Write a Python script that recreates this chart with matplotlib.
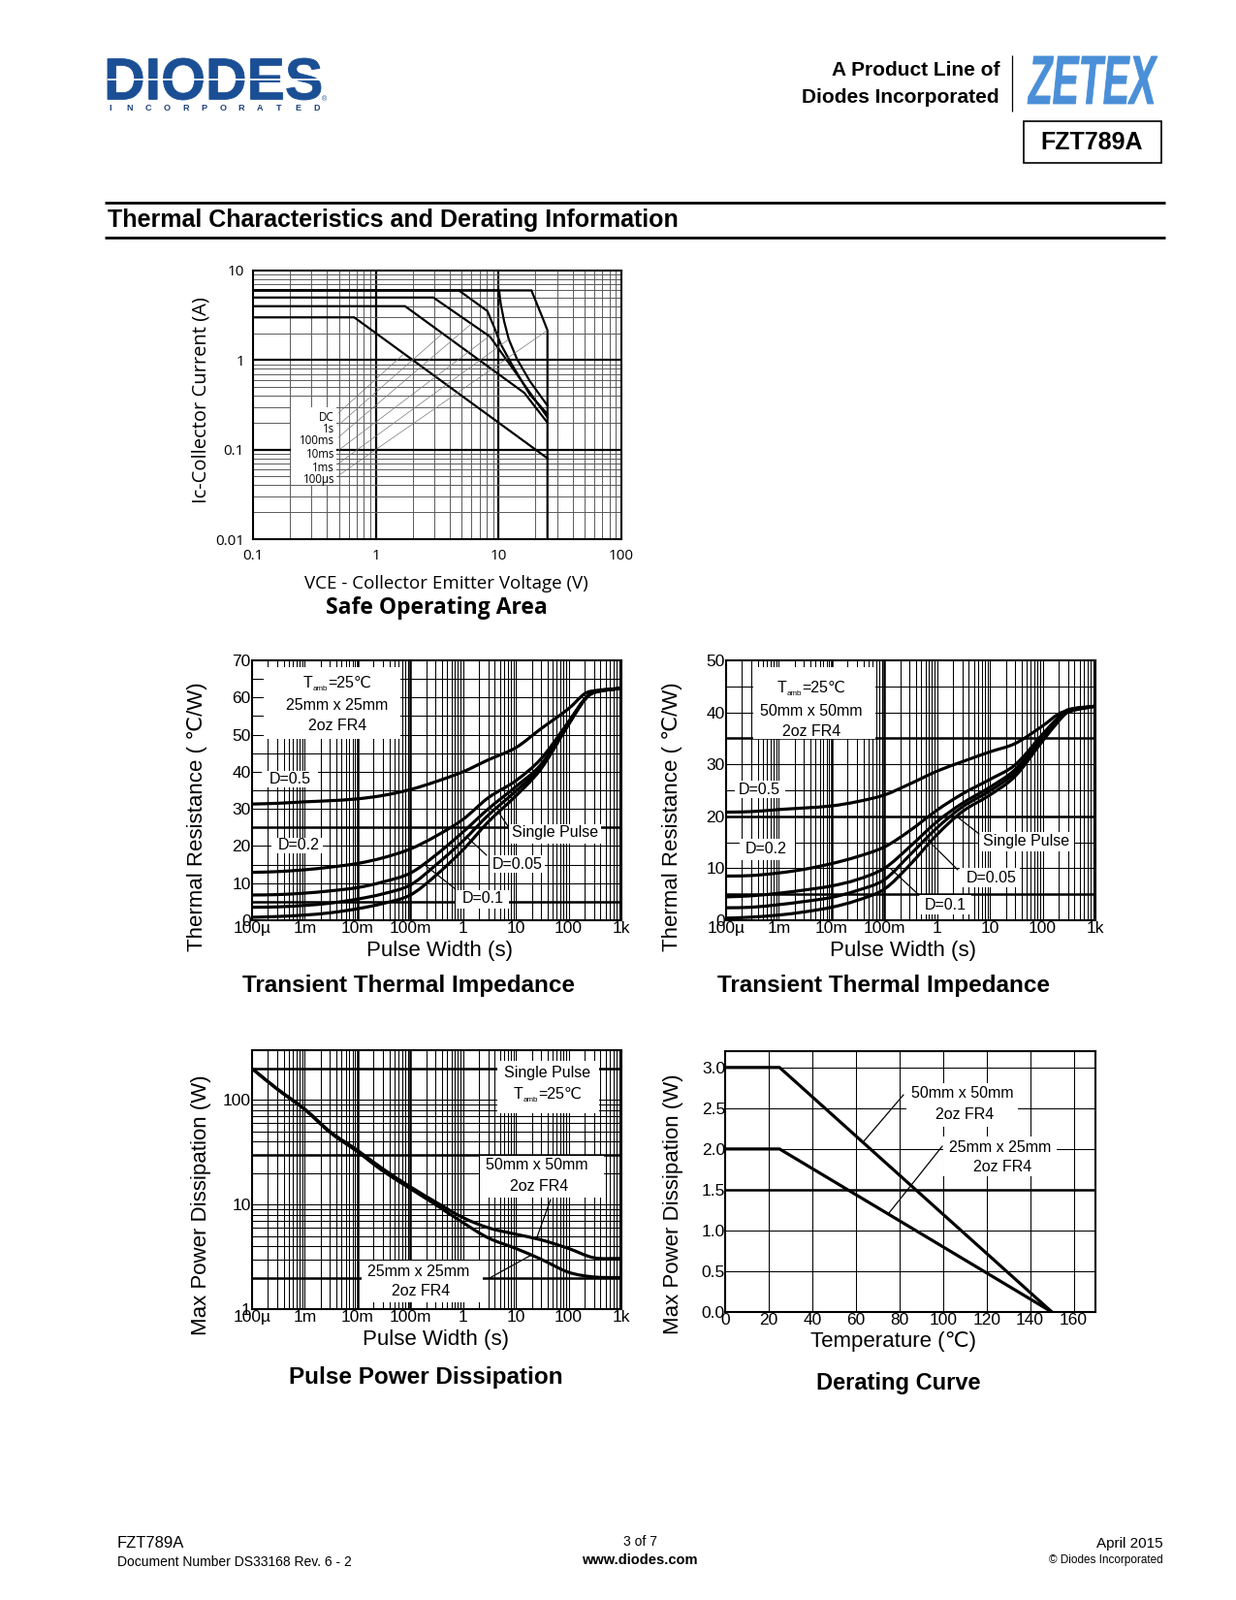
import matplotlib
matplotlib.use('Agg')
import numpy as np
import matplotlib.pyplot as plt
from matplotlib.font_manager import FontProperties
from matplotlib.lines import Line2D
from matplotlib.patches import PathPatch, Rectangle
from matplotlib.path import Path
from matplotlib.textpath import TextPath
from matplotlib.ticker import NullLocator
from matplotlib.transforms import Affine2D, IdentityTransform

plt.rcParams['font.family'] = ['Liberation Sans', 'DejaVu Sans']
SOA_FONT = ['Open Sans', 'DejaVu Sans']

# ---------------- data ----------------
# Safe operating area: VCE (V) / Ic (A)
soa_dc_v = [0.1, 0.667, 25]
soa_dc_i = [3.0, 3.0, 0.08]
soa_1s_v = [0.1, 1.73, 16.2, 25]
soa_1s_i = [4.0, 4.0, 0.43, 0.2]
soa_100ms_v = [0.1, 2.94, 8.5, 25]
soa_100ms_i = [5.0, 5.0, 1.83, 0.23]
soa_10ms_v = [0.1, 4.74, 8.1, 9.25, 10.4, 12.9, 18.0, 25]
soa_10ms_i = [6.0, 6.0, 3.53, 2.29, 1.51, 0.88, 0.41, 0.25]
soa_1ms_v = [0.1, 10.1, 10.4, 11.1, 12.1, 14.1, 18.0, 25]
soa_1ms_i = [6.0, 6.0, 4.27, 2.70, 1.71, 1.03, 0.58, 0.31]
soa_100us_v = [0.1, 18.5, 22.6, 25, 25]
soa_100us_i = [6.0, 6.0, 3.06, 2.15, 0.01]
soa_labels = ['DC', '1s', '100ms', '10ms', '1ms', '100µs']
soa_lead_v = [1.7, 3.5, 6.0, 9.5, 12.1, 25]
soa_lead_i = [1.18, 1.98, 2.54, 2.1, 1.71, 2.15]
soa_xticks = [0.1, 1, 10, 100]
soa_xlabels = ['0.1', '1', '10', '100']
soa_yticks = [0.01, 0.1, 1, 10]
soa_ylabels = ['0.01', '0.1', '1', '10']

# Transient thermal impedance (s / degC per W)
tti_t = [1e-4, 3e-4, 1e-3, 3e-3, 1e-2, 3e-2, 0.1, 0.3, 1, 3, 10, 30, 100, 200, 300, 1000]
z25_d05 = [31.3, 31.5, 31.9, 32.2, 32.7, 33.6, 35.2, 37.3, 40.0, 43.2, 46.5, 51.6, 57.0, 61.0, 61.8, 62.5]
z25_d02 = [12.9, 13.1, 13.6, 14.3, 15.3, 16.8, 19.2, 22.6, 27.2, 33.0, 37.6, 43.5, 53.5, 59.5, 61.5, 62.5]
z25_d01 = [6.8, 6.9, 7.3, 7.9, 8.8, 10.3, 12.7, 17.5, 23.8, 30.0, 36.0, 42.0, 53.3, 59.5, 61.4, 62.5]
z25_d005 = [3.5, 3.6, 4.0, 4.6, 5.7, 7.1, 9.5, 14.8, 21.4, 28.3, 34.8, 41.3, 53.0, 59.4, 61.3, 62.5]
z25_sp = [0.8, 1.0, 1.4, 2.0, 3.1, 4.5, 6.8, 12.0, 19.0, 26.5, 33.5, 40.8, 52.7, 59.3, 61.3, 62.5]
z50_d05 = [20.8, 20.9, 21.3, 21.6, 22.0, 22.8, 24.1, 26.2, 28.7, 30.5, 32.4, 34.0, 37.4, 39.7, 40.3, 41.2]
z50_d02 = [8.5, 8.6, 9.1, 9.8, 10.9, 12.2, 14.1, 17.2, 21.2, 24.3, 27.1, 29.9, 35.8, 39.1, 40.5, 41.2]
z50_d01 = [4.5, 4.7, 5.2, 5.8, 6.6, 7.8, 10.0, 14.1, 19.0, 22.5, 25.6, 29.0, 35.2, 38.6, 40.3, 41.2]
z50_d005 = [2.4, 2.5, 3.0, 3.6, 4.4, 5.7, 7.8, 12.5, 17.8, 21.8, 24.9, 28.4, 34.9, 38.4, 40.2, 41.2]
z50_sp = [0.4, 0.6, 1.0, 1.6, 2.5, 3.8, 6.0, 10.6, 16.5, 20.9, 24.1, 27.7, 34.5, 38.3, 40.0, 41.2]
tti_xticks = [1e-4, 1e-3, 1e-2, 1e-1, 1, 10, 100, 1000]
tti_xlabels = ['100µ', '1m', '10m', '100m', '1', '10', '100', '1k']

# Pulse power dissipation (s / W)
ppd_t = [1e-4, 3e-4, 1e-3, 3e-3, 1e-2, 3e-2, 0.1, 0.3, 1, 3, 10, 30, 100, 300, 1000]
ppd_50 = [200, 128, 82, 50, 33, 22, 14.8, 10.6, 7.5, 6.0, 5.2, 4.6, 3.8, 3.1, 3.05]
ppd_25 = [200, 127, 81, 49, 32, 21, 14.2, 10.0, 6.7, 4.8, 3.8, 3.0, 2.25, 2.03, 2.0]

# Derating (degC / W)
der_temp = [0, 25, 150]
der_50 = [3.0, 3.0, 0.0]
der_25 = [2.0, 2.0, 0.0]
der_xticks = [0, 20, 40, 60, 80, 100, 120, 140, 160]
der_yticks = [0.0, 0.5, 1.0, 1.5, 2.0, 2.5, 3.0]

# ---------------- page helpers (pixel coords from top-left) ----------------
W, H = 1275, 1650
fig = plt.figure(figsize=(W / 100, H / 100), dpi=100)


def fbox(l, t, r, b):
    return [l / W, 1 - b / H, (r - l) / W, (b - t) / H]


def ftext(x, y, s, **kw):
    kw.setdefault('ha', 'center')
    kw.setdefault('va', 'center')
    return fig.text(x / W, 1 - y / H, s, **kw)


def fline(x0, y0, x1, y1, lw=1.0, color='k'):
    fig.add_artist(Line2D([x0 / W, x1 / W], [1 - y0 / H, 1 - y1 / H],
                          transform=fig.transFigure, color=color, lw=lw,
                          solid_capstyle='butt'))


def white_box(ax, l, t, r, b):
    ax.add_patch(Rectangle((l, H - b), r - l, b - t, transform=IdentityTransform(),
                           facecolor='white', edgecolor='none', zorder=2))


def pointer(ax, x0, y0, xy, lw=0.9, color='k'):
    ax.annotate('', xy=xy, xycoords='data', xytext=(x0, H - y0),
                textcoords='figure pixels',
                arrowprops=dict(arrowstyle='-', color=color, lw=lw,
                                shrinkA=0, shrinkB=0), zorder=4)


def smooth_curve(ax, xs, ys, logy=False, lw=2.3):
    # cubic Hermite path through the read points (drawn in log-x space)
    u = np.log10(np.asarray(xs, float))
    v = np.log10(np.asarray(ys, float)) if logy else np.asarray(ys, float)
    n = len(u)
    sec = np.diff(v) / np.diff(u)
    m = np.empty(n)
    m[0], m[-1] = sec[0], sec[-1]
    for k in range(1, n - 1):
        m[k] = 0.0 if sec[k - 1] * sec[k] <= 0 else \
            (v[k + 1] - v[k - 1]) / (u[k + 1] - u[k - 1])
    verts = [(u[0], v[0])]
    codes = [Path.MOVETO]
    for k in range(n - 1):
        h = u[k + 1] - u[k]
        verts += [(u[k] + h / 3, v[k] + m[k] * h / 3),
                  (u[k + 1] - h / 3, v[k + 1] - m[k + 1] * h / 3),
                  (u[k + 1], v[k + 1])]
        codes += [Path.CURVE4] * 3
    verts = np.array(verts)
    verts[:, 0] = 10 ** verts[:, 0]
    if logy:
        verts[:, 1] = 10 ** verts[:, 1]
    ax.add_patch(PathPatch(Path(verts, codes), fill=False, lw=lw,
                           edgecolor='k', zorder=3, capstyle='butt'))


def logo_text(s, l, t, r, b, color, skew=0):
    tp = TextPath((0, 0), s, size=100,
                  prop=FontProperties(family='Liberation Sans', weight='bold'))
    tp = tp.transformed(Affine2D().skew_deg(skew, 0))
    e = tp.get_extents()
    tr = (Affine2D().translate(-e.x0, -e.y0)
          .scale((r - l) / e.width, (b - t) / e.height).translate(l, H - b))
    fig.add_artist(PathPatch(tr.transform_path(tp), facecolor=color,
                             edgecolor=color, lw=0.6, transform=IdentityTransform()))


def tamb(cx, cy, size=11.5):
    # T with small "amb" subscript followed by =25 degC
    rend = fig.canvas.get_renderer()
    base = cy + 0.36 * size * 100 / 72
    pieces = [('T', size, 0), ('amb', size * 0.5, 3.5), ('=25℃', size, 0)]
    objs = [ftext(0, base + dy, s, fontsize=fs, ha='left', va='baseline')
            for s, fs, dy in pieces]
    widths = [o.get_window_extent(rend).width for o in objs]
    x = cx - sum(widths) / 2
    for o, w in zip(objs, widths):
        o.set_x(x / W)
        x += w


def log_lines(lo, hi):
    return [m * 10.0 ** d for d in range(lo, hi) for m in range(1, 10)][1:]


def setup_axes(ax, lw=1.5):
    for sp in ax.spines.values():
        sp.set_linewidth(lw)
        sp.set_zorder(5)
    ax.xaxis.set_minor_locator(NullLocator())
    ax.yaxis.set_minor_locator(NullLocator())


# ---------------- header ----------------
logo_text('DIODES', 111, 60, 331, 103, '#1b4f95')
fline(111, 82, 331, 82, lw=1.3, color='white')
for k, ch in enumerate('INCORPORATED'):
    ftext(114 + k * 19.3, 111, ch, fontsize=6.5, weight='bold', color='#1b3f7a')
ftext(334, 103, '®', fontsize=5, color='#1b4f95')
ftext(1031, 73, 'A Product Line of', fontsize=15, weight='bold', ha='right')
ftext(1031, 100, 'Diodes Incorporated', fontsize=15, weight='bold', ha='right')
fline(1043.5, 57, 1043.5, 115, lw=0.9)
logo_text('ZETEX', 1060, 58, 1194, 107, '#4a8fd8', skew=10)
fig.add_artist(Rectangle((1055.5, H - 168.3), 142.3, 43.3, transform=IdentityTransform(),
                         fill=False, edgecolor='k', lw=1.2))
ftext(1126.5, 147, 'FZT789A', fontsize=18, weight='bold')
fline(108, 208.5, 1202, 208.5, lw=2.0)
ftext(111, 227, 'Thermal Characteristics and Derating Information',
      fontsize=18, weight='bold', ha='left')
fline(108, 244.5, 1202, 244.5, lw=2.0)

# ---------------- Safe Operating Area ----------------
ax = fig.add_axes(fbox(261, 279, 641, 556))
ax.set_xscale('log')
ax.set_yscale('log')
ax.set_xlim(0.1, 100)
ax.set_ylim(0.01, 10)
setup_axes(ax)
for v in log_lines(-1, 2):
    major = v in (1, 10)
    ax.axvline(v, color='k' if major else '#5a5a5a', lw=1.6 if major else 0.7, zorder=1)
for v in log_lines(-2, 1):
    major = v in (0.1, 1)
    ax.axhline(v, color='k' if major else '#5a5a5a', lw=1.6 if major else 0.7, zorder=1)
for vv, ii in [(soa_dc_v, soa_dc_i), (soa_1s_v, soa_1s_i), (soa_100ms_v, soa_100ms_i),
               (soa_10ms_v, soa_10ms_i), (soa_1ms_v, soa_1ms_i), (soa_100us_v, soa_100us_i)]:
    ax.plot(vv, ii, color='k', lw=1.6, zorder=3, solid_joinstyle='miter')
white_box(ax, 300, 420, 347, 500)
label_y = [430, 442.5, 455, 468.5, 482, 494.5]
for lab, y, v, i in zip(soa_labels, label_y, soa_lead_v, soa_lead_i):
    ftext(345, y, lab, fontsize=8.3, ha='right', family=SOA_FONT)
    pointer(ax, 349, y - 4, (v, i), lw=0.5, color='#777777')
ax.set_xticks(soa_xticks)
ax.set_xticklabels(soa_xlabels, family=SOA_FONT)
ax.set_yticks(soa_yticks)
ax.set_yticklabels(soa_ylabels, family=SOA_FONT)
ax.tick_params(length=0, labelsize=11, pad=7)
ax.tick_params(axis='y', pad=6.5)
ftext(207, 413, 'Ic-Collector Current (A)', rotation=90, fontsize=14.5, family=SOA_FONT)
ftext(460, 602, 'VCE - Collector Emitter Voltage (V)', fontsize=13.5, family=SOA_FONT)
ftext(450, 627, 'Safe Operating Area', fontsize=16.5, weight='bold', family=SOA_FONT)


# ---------------- grids for the Zetex style charts ----------------
def tti_vgrid(ax):
    for v in log_lines(-4, 3):
        thick = v in (1e-2, 1e-1)
        ax.axvline(v, color='k', lw=1.8 if thick else 0.75, zorder=1)


def tti_axes(box, ymax, thick_y, curves, title_x, ylab_x, xlab_x):
    ax = fig.add_axes(fbox(*box))
    ax.set_xscale('log')
    ax.set_xlim(1e-4, 1e3)
    ax.set_ylim(0, ymax)
    setup_axes(ax)
    tti_vgrid(ax)
    for v in range(5, ymax, 5):
        ax.axhline(v, color='k', lw=1.8 if v in thick_y else 0.75, zorder=1)
    for z in curves:
        smooth_curve(ax, tti_t, z)
    ax.set_xticks(tti_xticks)
    ax.set_xticklabels(tti_xlabels)
    ax.set_yticks(range(0, ymax + 1, 10))
    ax.tick_params(length=0, labelsize=12.5)
    ax.tick_params(axis='x', pad=0.5)
    ax.tick_params(axis='y', pad=1)
    ftext(ylab_x, 842, 'Thermal Resistance ( ℃/W)', rotation=90, fontsize=16)
    ftext(xlab_x, 980, 'Pulse Width (s)', fontsize=16)
    ftext(title_x, 1016, 'Transient Thermal Impedance', fontsize=17.5, weight='bold')
    return ax


# ---------------- Transient Thermal Impedance 25mm ----------------
ax = tti_axes((260, 681, 641, 949), 70, (5, 25),
              [z25_d05, z25_d02, z25_d01, z25_d005, z25_sp], 422, 204, 453)
white_box(ax, 272, 688, 413, 762)
white_box(ax, 270, 795, 328, 812)
white_box(ax, 280, 864, 333, 880)
white_box(ax, 525, 850, 620, 870)
white_box(ax, 505, 882, 562, 900)
white_box(ax, 470, 918, 525, 937)
tamb(348, 703)
ftext(348, 728, '25mm x 25mm', fontsize=11.5)
ftext(348, 749, '2oz FR4', fontsize=11.5)
ftext(299, 803, 'D=0.5', fontsize=11.5)
ftext(308, 872, 'D=0.2', fontsize=11.5)
ftext(573, 859, 'Single Pulse', fontsize=11.5)
ftext(534, 891, 'D=0.05', fontsize=11.5)
ftext(498, 927, 'D=0.1', fontsize=11.5)
pointer(ax, 524, 852, (4.5, 29.5))
pointer(ax, 502, 882, (1.2, 22.3))
pointer(ax, 470, 917, (0.176, 15.2))

# ---------------- Transient Thermal Impedance 50mm ----------------
ax = tti_axes((749, 681, 1130, 949), 50, (5, 20, 35),
              [z50_d05, z50_d02, z50_d01, z50_d005, z50_sp], 912, 694, 931)
white_box(ax, 777, 688, 903, 762)
white_box(ax, 758, 805, 810, 823)
white_box(ax, 763, 865, 820, 887)
white_box(ax, 1010, 858, 1108, 878)
white_box(ax, 990, 895, 1052, 915)
white_box(ax, 948, 923, 1002, 943)
tamb(837, 708)
ftext(837, 733, '50mm x 50mm', fontsize=11.5)
ftext(837, 755, '2oz FR4', fontsize=11.5)
ftext(783, 814, 'D=0.5', fontsize=11.5)
ftext(790, 876, 'D=0.2', fontsize=11.5)
ftext(1059, 868, 'Single Pulse', fontsize=11.5)
ftext(1023, 905, 'D=0.05', fontsize=11.5)
ftext(975, 934, 'D=0.1', fontsize=11.5)
pointer(ax, 1010, 860, (2.33, 20.0))
pointer(ax, 988, 897, (0.655, 15.5))
pointer(ax, 948, 923, (0.129, 10.0))

# ---------------- Pulse Power Dissipation ----------------
ax = fig.add_axes(fbox(260, 1083, 641, 1350))
ax.set_xscale('log')
ax.set_yscale('log')
ax.set_xlim(1e-4, 1e3)
ax.set_ylim(1, 300)
setup_axes(ax)
tti_vgrid(ax)
for v in [m * 10.0 ** d for d in range(0, 3) for m in range(1, 10)][1:]:
    if v < 300:
        ax.axhline(v, color='k', lw=1.8 if v in (2, 30, 200) else 0.75, zorder=1)
smooth_curve(ax, ppd_t, ppd_50, logy=True)
smooth_curve(ax, ppd_t, ppd_25, logy=True)
ax.set_xticks(tti_xticks)
ax.set_xticklabels(tti_xlabels)
ax.set_yticks([1, 10, 100])
ax.set_yticklabels(['1', '10', '100'])
ax.tick_params(length=0, labelsize=12.5)
ax.tick_params(axis='x', pad=0.5)
ax.tick_params(axis='y', pad=1)
white_box(ax, 513, 1094, 618, 1148)
white_box(ax, 495, 1192, 623, 1235)
white_box(ax, 373, 1300, 498, 1343)
ftext(565, 1107, 'Single Pulse', fontsize=11.5)
tamb(565, 1127)
ftext(554, 1202, '50mm x 50mm', fontsize=11.5)
ftext(556, 1223, '2oz FR4', fontsize=11.5)
ftext(432, 1311, '25mm x 25mm', fontsize=11.5)
ftext(434, 1332, '2oz FR4', fontsize=11.5)
pointer(ax, 568, 1237, (24.5, 4.7))
pointer(ax, 505, 1318, (19.8, 3.3))
ftext(207, 1243, 'Max Power Dissipation (W)', rotation=90, fontsize=16)
ftext(449, 1382, 'Pulse Width (s)', fontsize=16)
ftext(439, 1421, 'Pulse Power Dissipation', fontsize=17.5, weight='bold')

# ---------------- Derating Curve ----------------
ax = fig.add_axes(fbox(748, 1084, 1130, 1353))
ax.set_xlim(0, 170)
ax.set_ylim(0, 3.2)
setup_axes(ax)
for v in der_xticks[1:]:
    ax.axvline(v, color='k', lw=0.75, zorder=1)
for v in der_yticks[1:]:
    ax.axhline(v, color='k', lw=1.8 if v == 1.5 else 0.75, zorder=1)
ax.plot(der_temp, der_50, color='k', lw=2.3, zorder=3)
ax.plot(der_temp, der_25, color='k', lw=2.3, zorder=3)
ax.set_xticks(der_xticks)
ax.set_yticks(der_yticks)
ax.set_yticklabels(['%.1f' % v for v in der_yticks])
ax.tick_params(length=0, labelsize=12.5)
ax.tick_params(axis='x', pad=0.5)
ax.tick_params(axis='y', pad=0)
white_box(ax, 935, 1117, 1050, 1162)
white_box(ax, 973, 1172, 1090, 1213)
ftext(993, 1128, '50mm x 50mm', fontsize=11.5)
ftext(995, 1149, '2oz FR4', fontsize=11.5)
ftext(1032, 1183, '25mm x 25mm', fontsize=11.5)
ftext(1034, 1203, '2oz FR4', fontsize=11.5)
pointer(ax, 932, 1129, (63.2, 2.08))
pointer(ax, 972, 1182, (74.8, 1.2))
ftext(695, 1242, 'Max Power Dissipation (W)', rotation=90, fontsize=16)
ftext(922, 1383, 'Temperature (℃)', fontsize=16)
ftext(927, 1427, 'Derating Curve', fontsize=17, weight='bold')

# ---------------- footer ----------------
ftext(121, 1592, 'FZT789A', fontsize=12, ha='left')
ftext(121, 1611, 'Document Number DS33168 Rev. 6 - 2', fontsize=10, ha='left')
ftext(660, 1590, '3 of 7', fontsize=10)
ftext(660, 1609, 'www.diodes.com', fontsize=10.5, weight='bold')
ftext(1200, 1592, 'April 2015', fontsize=11, ha='right')
ftext(1200, 1609, '© Diodes Incorporated', fontsize=8.5, ha='right')

fig.savefig('out.png', dpi=100, facecolor='white')
